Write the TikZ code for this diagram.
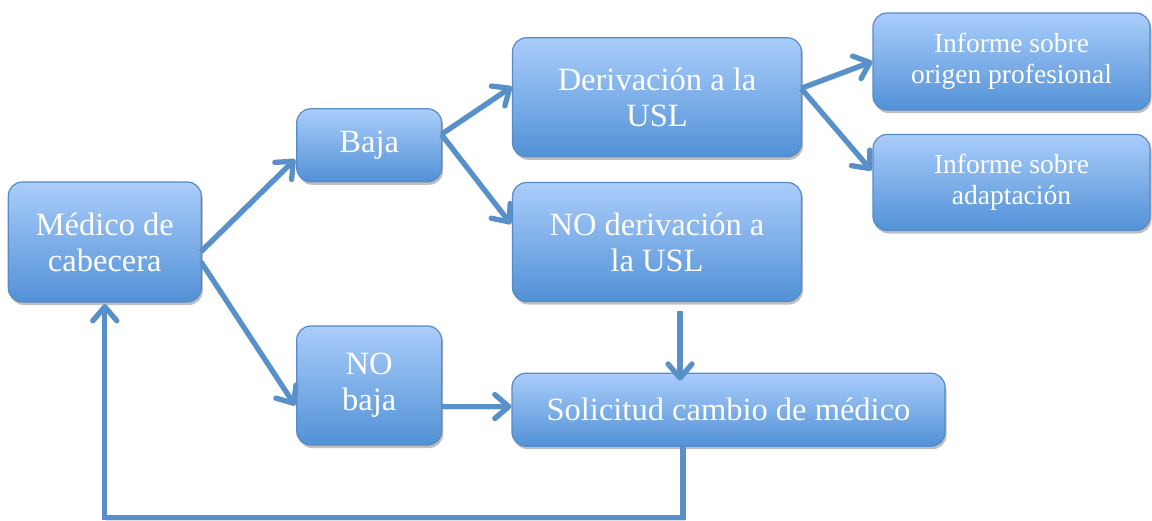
\documentclass[tikz,border=0pt]{standalone}
\usepackage{fontspec}
\setmainfont{Liberation Serif}
\usetikzlibrary{arrows.meta,calc,shadows,positioning}
\definecolor{boxtop}{RGB}{170,205,251}
\definecolor{boxbot}{RGB}{82,145,214}
\definecolor{boxline}{RGB}{88,138,198}
\definecolor{arrcol}{RGB}{88,144,202}
\tikzset{
  box/.style={rounded corners=14pt, draw=boxline, line width=1.2pt,
    top color=boxtop, bottom color=boxbot, text=white, align=center,
    inner sep=0pt, anchor=center,
    drop shadow={shadow xshift=1.5pt, shadow yshift=-3pt, opacity=0.25, fill=black}},
  bigtxt/.style={font=\fontsize{32.5}{36}\selectfont},
  smalltxt/.style={font=\fontsize{27.5}{31}\selectfont},
  arr/.style={draw=arrcol, line width=5.3pt,
    -{Straight Barb[length=14pt,width=24pt,round]},
    preaction={draw=black, opacity=0.12, transform canvas={shift={(1.5pt,-2.5pt)}}}},
  line/.style={draw=arrcol, line width=5.3pt}
}
\begin{document}
\begin{tikzpicture}[x=1pt,y=-1pt]
\useasboundingbox (0,0) rectangle (1152,520);
% nodes
\node[box,bigtxt,minimum width=193pt,minimum height=120pt] (med) at (104.8,242) {Médico de\\cabecera};
\node[box,bigtxt,minimum width=145pt,minimum height=73pt] (baja) at (369.2,145.3) {Baja};
\node[box,bigtxt,minimum width=289pt,minimum height=119pt] (der) at (657,97.3) {Derivación a la\\USL};
\node[box,bigtxt,minimum width=289pt,minimum height=119pt] (noder) at (657,242) {NO derivación a\\la USL};
\node[box,smalltxt,minimum width=277pt,minimum height=97pt] (inf1) at (1011.5,61.5) {Informe sobre\\origen profesional};
\node[box,smalltxt,minimum width=277pt,minimum height=96pt] (inf2) at (1011.5,182.5) {Informe sobre\\adaptación};
\node[box,bigtxt,minimum width=145pt,minimum height=119pt] (nobaja) at (369.2,385.5) {NO\\baja};
\node[box,bigtxt,minimum width=433pt,minimum height=73pt] (sol) at (728.5,409.7) {Solicitud cambio de médico};
% connector anchor points
\coordinate (m1) at ($(med.east)+(-1,9.7)$);
\coordinate (m2) at ($(med.east)+(-1,19.7)$);
\coordinate (b1) at ($(baja.east)+(-1,-11)$);
\coordinate (d1) at ($(der.east)+(-1,-9)$);
\coordinate (nd) at ($(noder.south)+(23,9)$);
\coordinate (nb) at ($(nobaja.east)+(0,21)$);
\coordinate (lp) at ($(sol.south)+(-45.5,0)$);
% connectors
\draw[arr] (m1) -- ($(baja.west)+(-1,14)$);
\draw[arr] (m2) -- ($(nobaja.west)+(-1,20)$);
\draw[arr] (b1) -- ($(der.west)+(0,-10.6)$);
\draw[arr] (b1) -- ($(noder.west)+(-1,-18)$);
\draw[arr] (d1) -- ($(inf1.west)+(0,0)$);
\draw[arr] (d1) -- ($(inf2.west)+(-1,-12)$);
\draw[arr] (nd) -- ($(nd |- sol.north)+(0,8)$);
\draw[arr] (nb) -- (nb -| sol.west);
\draw[arr] (lp) -- ++(0,71) -| ($(med.south)+(0,1.5)$);
\end{tikzpicture}
\end{document}
